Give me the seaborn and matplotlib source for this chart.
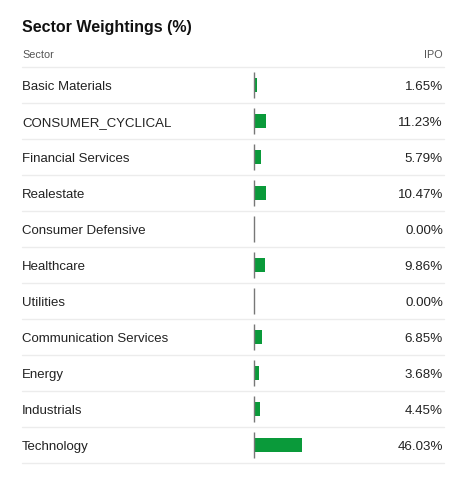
import matplotlib
matplotlib.use("Agg")
import matplotlib.pyplot as plt
import matplotlib.transforms as mtransforms
import seaborn as sns
import pandas as pd

# =========================
# Data
# =========================
sectors = ["Basic Materials", "CONSUMER_CYCLICAL", "Financial Services", "Realestate",
           "Consumer Defensive", "Healthcare", "Utilities", "Communication Services",
           "Energy", "Industrials", "Technology"]
weights = [1.65, 11.23, 5.79, 10.47, 0.00, 9.86, 0.00, 6.85, 3.68, 4.45, 46.03]
value_labels = ["1.65%", "11.23%", "5.79%", "10.47%", "0.00%", "9.86%",
                "0.00%", "6.85%", "3.68%", "4.45%", "46.03%"]

df = pd.DataFrame({"sector": sectors, "weight": weights})

sns.set_theme(style="white")
plt.rcParams["font.family"] = ["Liberation Sans", "DejaVu Sans"]

W, H = 455, 488
fig = plt.figure(figsize=(W / 100, H / 100), dpi=100)
ax = fig.add_axes([0, 0, 1, 1])

# pixel layout: bar baseline at x=255, ~1.02 px per percent, rows 36 px tall
px_per_pct = 1.02
base_px = 255
row_h = 36
first_center = 85

sns.barplot(data=df, x="weight", y="sector", orient="h", color="#0a9a3a",
            width=0.39, linewidth=0, saturation=1, ax=ax)

ax.set_xlim(-base_px / px_per_pct, (W - base_px) / px_per_pct)
ax.set_ylim((H - first_center) / row_h, -first_center / row_h)
ax.set_axis_off()

# baseline ticks
ax.vlines([-0.5] * len(sectors), [i - 0.35 for i in range(len(sectors))],
          [i + 0.35 for i in range(len(sectors))], color="#777777", lw=1.0)

# x in figure pixels, y in data
trans = mtransforms.blended_transform_factory(
    mtransforms.Affine2D().scale(1 / W, 1) + fig.transFigure, ax.transData)


def py(pixel_y):
    return (pixel_y - first_center) / row_h


# row separators
for i in range(len(sectors) + 1):
    ax.plot([22, 444], [i - 0.5, i - 0.5], transform=trans, color="#ececec", lw=1.0)

base_off = 5 / row_h
for i, (s, v) in enumerate(zip(sectors, value_labels)):
    ax.text(22, i + base_off, s, transform=trans, ha="left", va="baseline",
            fontsize=9.5, color="#222222")
    ax.text(443, i + base_off, v, transform=trans, ha="right", va="baseline",
            fontsize=9.6, color="#222222")

# header and title
ax.text(22, py(58), "Sector", transform=trans, ha="left",
        va="baseline", fontsize=7.8, color="#555555")
ax.text(443, py(58), "IPO", transform=trans, ha="right",
        va="baseline", fontsize=7.8, color="#555555")
ax.text(22, py(32), "Sector Weightings (%)", transform=trans,
        ha="left", va="baseline", fontsize=11.5, fontweight="bold", color="#111111")

fig.savefig("out.png", dpi=100)
